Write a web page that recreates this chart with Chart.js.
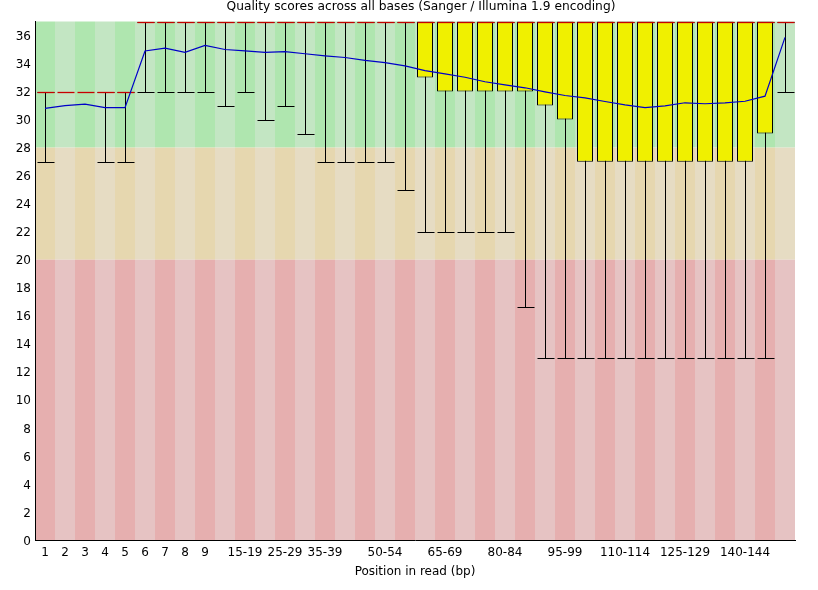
<!DOCTYPE html>
<html>
<head>
<meta charset="utf-8">
<script src="https://cdn.jsdelivr.net/npm/chart.js@4"></script>
<style>
  html, body { margin: 0; padding: 0; background: #fff; }
  #wrap { width: 818px; height: 590px; }
</style>
</head>
<body>
<div id="wrap"><canvas id="qualChart" width="818" height="590"></canvas></div>
<script>
// ── Data ──────────────────────────────────────────────
const positions = ["1","2","3","4","5","6","7","8","9",
  "10-14","15-19","20-24","25-29","30-34","35-39","40-44","45-49","50-54",
  "55-59","60-64","65-69","70-74","75-79","80-84","85-89","90-94","95-99",
  "100-104","105-109","110-114","115-119","120-124","125-129","130-134",
  "135-139","140-144","145-149","150-151"];

const shownLabels = ["1","2","3","4","5","6","7","8","9","15-19","25-29","35-39",
  "50-54","65-69","80-84","95-99","110-114","125-129","140-144"];

const medians = [32,32,32,32,32,37,37,37,37,37,37,37,37,37,37,37,37,37,
  37,37,37,37,37,37,37,37,37,37,37,37,37,37,37,37,37,37,37,37];

const lowerQuartile = [32,32,32,32,32,37,37,37,37,37,37,37,37,37,37,37,37,37,
  37,33,32,32,32,32,32,31,30,27,27,27,27,27,27,27,27,27,29,37];

const upperQuartile = [32,32,32,32,32,37,37,37,37,37,37,37,37,37,37,37,37,37,
  37,37,37,37,37,37,37,37,37,37,37,37,37,37,37,37,37,37,37,37];

const pct10 = [27,32,32,27,27,32,32,32,32,31,32,30,31,29,27,27,27,27,
  25,22,22,22,22,22,16.6,13,13,13,13,13,13,13,13,13,13,13,13,32];

const pct90 = [32,32,32,32,32,37,37,37,37,37,37,37,37,37,37,37,37,37,
  37,37,37,37,37,37,37,37,37,37,37,37,37,37,37,37,37,37,37,37];

const means = [30.8,31.0,31.1,30.85,30.85,34.9,35.1,34.8,35.3,35.0,34.9,34.8,34.85,34.7,
  34.55,34.43,34.22,34.07,33.83,33.5,33.26,33.02,32.7,32.48,32.27,31.98,31.72,
  31.55,31.29,31.05,30.86,30.98,31.2,31.13,31.2,31.31,31.67,35.87];

const yTicks = [0,2,4,6,8,10,12,14,16,18,20,22,24,26,28,30,32,34,36];

const TITLE = "Quality scores across all bases (Sanger / Illumina 1.9 encoding)";
const FONT = { family: "'DejaVu Sans', sans-serif", size: 12 };

// ── Background bands, whiskers, medians, title ───────
const boxPlotPlugin = {
  id: "boxplot",
  beforeDraw(chart) {
    const { ctx, chartArea: a, scales: { x, y } } = chart;
    const w = a.width / positions.length;
    const zones = [
      { from: 28, to: 37, light: "rgb(195,230,195)", dark: "rgb(175,230,175)" },
      { from: 20, to: 28, light: "rgb(230,220,195)", dark: "rgb(230,215,175)" },
      { from: 0,  to: 20, light: "rgb(230,195,195)", dark: "rgb(230,175,175)" },
    ];
    ctx.save();
    positions.forEach((p, i) => {
      const cx = x.getPixelForValue(i);
      zones.forEach(z => {
        const top = z.to === 37 ? a.top : y.getPixelForValue(z.to);
        const bot = y.getPixelForValue(z.from);
        ctx.fillStyle = i % 2 === 0 ? z.dark : z.light;
        ctx.fillRect(cx - w / 2, top, w, bot - top);
      });
    });
    ctx.fillStyle = "#000";
    ctx.font = `12.25px ${FONT.family}`;
    ctx.textAlign = "center";
    ctx.textBaseline = "middle";
    ctx.fillText(TITLE, (a.left + a.right) / 2 + 6, 7);
    ctx.restore();
  },
  beforeDatasetsDraw(chart) {
    const { ctx, scales: { x, y } } = chart;
    ctx.save();
    ctx.strokeStyle = "#000";
    ctx.lineWidth = 1;
    positions.forEach((p, i) => {
      if (pct10[i] === pct90[i]) return;
      const cx = Math.round(x.getPixelForValue(i)) + 0.5;
      const yLo = Math.round(y.getPixelForValue(pct10[i])) + 0.5;
      const yHi = Math.round(y.getPixelForValue(pct90[i])) + 0.5;
      ctx.beginPath();
      ctx.moveTo(cx, yLo); ctx.lineTo(cx, yHi);
      ctx.moveTo(cx - 8, yLo); ctx.lineTo(cx + 9, yLo);
      ctx.moveTo(cx - 8, yHi); ctx.lineTo(cx + 9, yHi);
      ctx.stroke();
    });
    ctx.restore();
  },
  afterDatasetDraw(chart, args) {
    if (args.index !== 0) return;
    const { ctx, scales: { x, y } } = chart;
    ctx.save();
    ctx.strokeStyle = "rgb(200,0,0)";
    ctx.lineWidth = 1.3;
    medians.forEach((m, i) => {
      const cx = Math.round(x.getPixelForValue(i)) + 0.5;
      const my = Math.round(y.getPixelForValue(m)) + 0.5;
      ctx.beginPath();
      ctx.moveTo(cx - 8, my); ctx.lineTo(cx + 9, my);
      ctx.stroke();
    });
    ctx.restore();
  }
};

const boxes = lowerQuartile.map((lo, i) => lo < upperQuartile[i] ? [lo, upperQuartile[i]] : null);

new Chart(document.getElementById("qualChart"), {
  type: "bar",
  data: {
    labels: positions,
    datasets: [
      {
        label: "Quartiles",
        data: boxes,
        backgroundColor: "rgb(240,240,0)",
        borderColor: "#000",
        borderWidth: 1,
        borderSkipped: false,
        barPercentage: 0.8,
        categoryPercentage: 1,
        order: 2,
      },
      {
        label: "Mean",
        type: "line",
        data: means,
        borderColor: "rgb(0,0,200)",
        borderWidth: 1.2,
        pointRadius: 0,
        tension: 0,
        fill: false,
        order: 1,
      },
    ],
  },
  options: {
    responsive: false,
    animation: false,
    devicePixelRatio: 1,
    layout: { padding: { top: 21.5, right: 23, bottom: 0, left: 0 } },
    plugins: {
      legend: { display: false },
      tooltip: { enabled: false },
      title: { display: false },
    },
    scales: {
      x: {
        grid: { display: false, drawTicks: false },
        border: { display: true, color: "#000", width: 1 },
        ticks: {
          color: "#000",
          font: FONT,
          padding: 5.5,
          autoSkip: false,
          maxRotation: 0,
          callback: (v, i) => shownLabels.includes(positions[i]) ? positions[i] : "",
        },
        title: {
          display: true,
          text: "Position in read (bp)",
          color: "#000",
          font: FONT,
          padding: { top: 4, bottom: 10.8 },
        },
        afterFit: s => { s.height = 50; },
      },
      y: {
        min: 0,
        max: 37,
        grid: { display: false, drawTicks: false },
        border: { display: true, color: "#000", width: 1 },
        ticks: { color: "#000", font: FONT, padding: 4, stepSize: 2, includeBounds: false, labelOffset: 1.5 },
        afterBuildTicks: s => { s.ticks = yTicks.map(v => ({ value: v })); },
        afterFit: s => { s.width = 35; },
      },
    },
  },
  plugins: [boxPlotPlugin],
});
</script>
</body>
</html>
